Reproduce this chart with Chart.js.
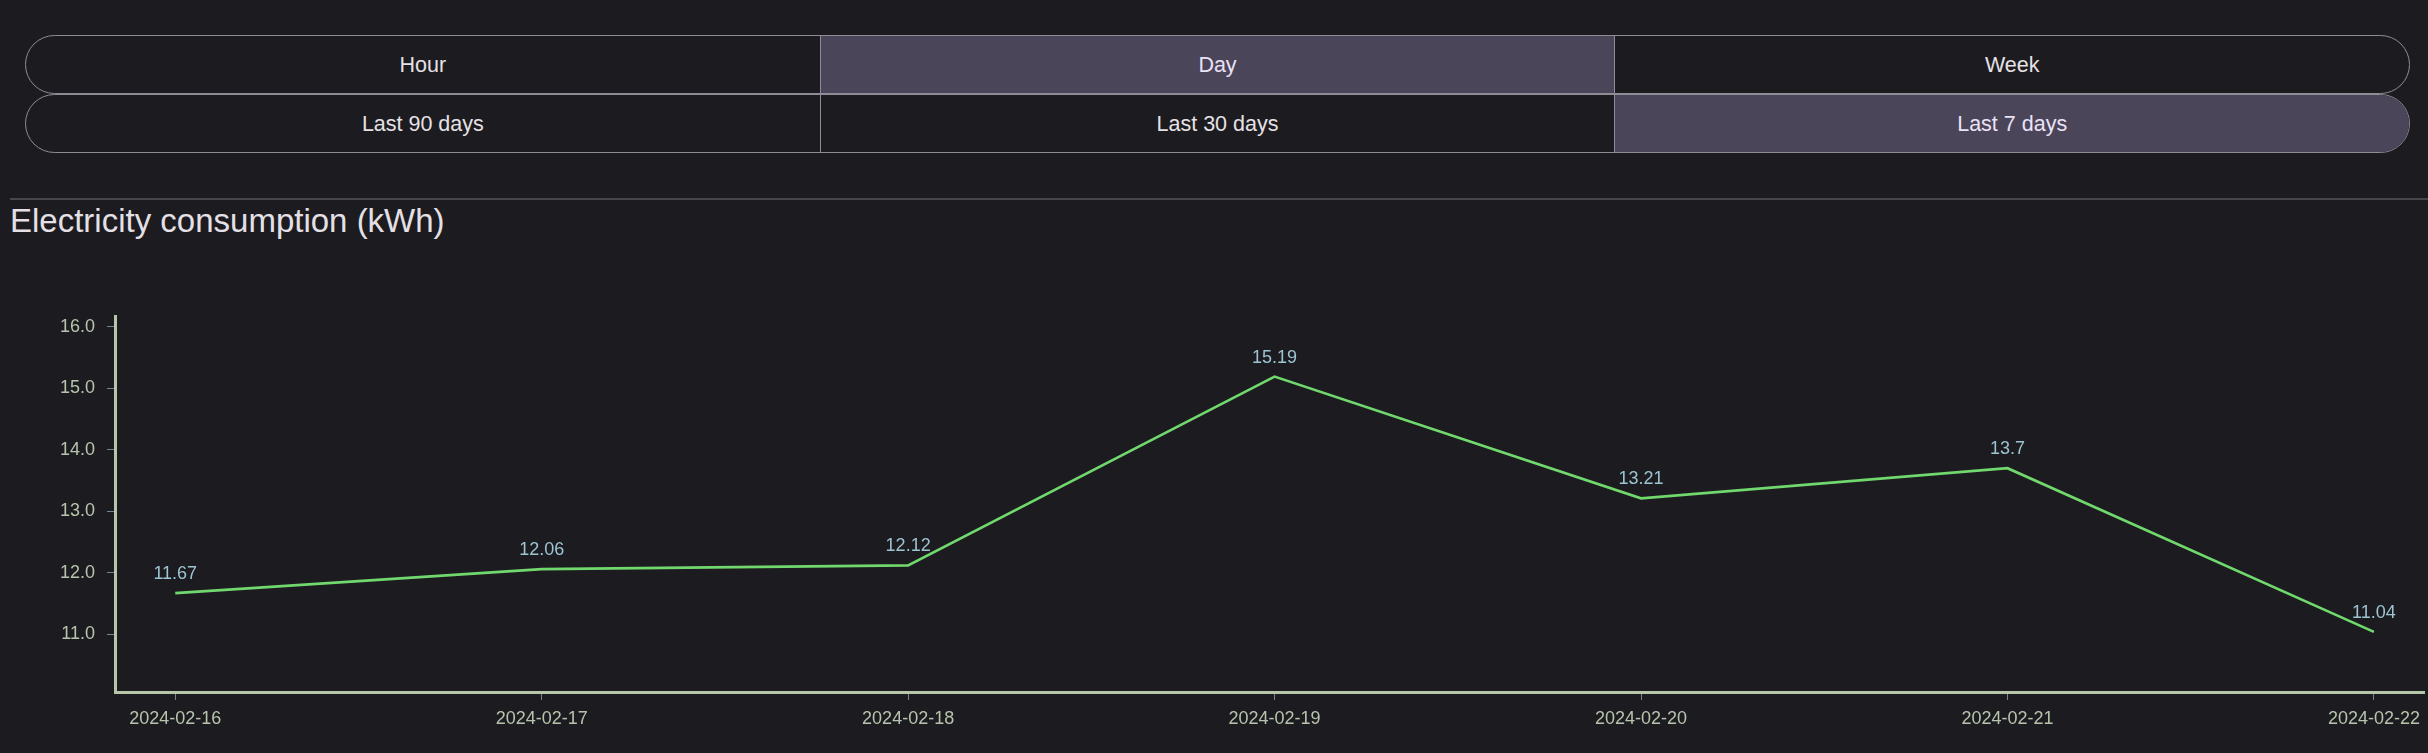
<!DOCTYPE html>
<html>
<head>
<meta charset="utf-8">
<script src="https://cdn.jsdelivr.net/npm/chart.js@4"></script>
<style>
  html, body { margin: 0; padding: 0; background: #1c1b20; }
  body { width: 2428px; height: 753px; position: relative; overflow: hidden;
         font-family: "Liberation Sans", Arial, sans-serif; }
  .row { position: absolute; left: 25px; width: 2385px; height: 59px; box-sizing: border-box;
         border: 1px solid #8f8c95; border-radius: 30px; overflow: hidden; display: flex; }
  .row div { flex: 1; display: flex; align-items: center; justify-content: center;
             font-size: 21.5px; color: #e6e1e5; padding-top: 2px; box-sizing: border-box; }
  .row div + div { border-left: 1px solid #8f8c95; }
  .row div.sel { background: #4a4559; color: #ebe2f7; }
  #r1 { top: 35px; }
  #r2 { top: 94px; }
  #rule { position: absolute; left: 10px; right: 0; top: 198px; height: 2px; background: #47464c; }
  #title { position: absolute; left: 10px; top: 202px; font-size: 33px; line-height: 38px; color: #e4e0e6; margin: 0; font-weight: normal; }
  #chart { position: absolute; left: 0; top: 240px; }
</style>
</head>
<body>
<div class="row" id="r1"><div>Hour</div><div class="sel">Day</div><div>Week</div></div>
<div class="row" id="r2"><div>Last 90 days</div><div>Last 30 days</div><div class="sel">Last 7 days</div></div>
<div id="rule"></div>
<h1 id="title">Electricity consumption (kWh)</h1>
<canvas id="chart" width="2428" height="513"></canvas>
<script>
const categories = ['2024-02-16', '2024-02-17', '2024-02-18', '2024-02-19', '2024-02-20', '2024-02-21', '2024-02-22'];
const consumption = [11.67, 12.06, 12.12, 15.19, 13.21, 13.7, 11.04];
const yTickValues = [11, 12, 13, 14, 15, 16];

const FONT = '"Liberation Sans", Arial, sans-serif';
Chart.defaults.font.family = FONT;
Chart.defaults.font.size = 18;

const valueLabels = {
  id: 'valueLabels',
  afterDatasetsDraw(chart) {
    const ctx = chart.ctx;
    const meta = chart.getDatasetMeta(0);
    ctx.save();
    ctx.font = '18px ' + FONT;
    ctx.fillStyle = '#9cc4d1';
    ctx.textAlign = 'center';
    ctx.textBaseline = 'alphabetic';
    meta.data.forEach((pt, i) => {
      ctx.fillText(String(consumption[i]), pt.x, pt.y - 14);
    });
    ctx.restore();
  }
};

new Chart(document.getElementById('chart'), {
  type: 'line',
  data: {
    datasets: [{
      label: 'Electricity consumption (kWh)',
      data: categories.map((c, i) => ({ x: i, y: consumption[i] })),
      borderColor: '#70d86c',
      borderWidth: 2.6,
      pointRadius: 0,
      tension: 0,
      fill: false
    }]
  },
  options: {
    responsive: false,
    devicePixelRatio: 1,
    animation: false,
    layout: { padding: { top: 76, right: 2, left: 0, bottom: 0 } },
    plugins: { legend: { display: false }, tooltip: { enabled: false } },
    scales: {
      x: {
        type: 'linear',
        min: -0.1644,
        max: 6.138,
        afterBuildTicks: (axis) => { axis.ticks = categories.map((c, i) => ({ value: i })); },
        afterFit: (scale) => { scale.height = 61; },
        ticks: {
          color: '#b7c4ad',
          padding: 8,
          maxRotation: 0,
          autoSkip: false,
          callback: (v) => categories[v]
        },
        grid: { display: true, drawOnChartArea: false, drawTicks: true, tickLength: 8, color: '#70849a' },
        border: { display: true, color: '#b6c6a9', width: 3 }
      },
      y: {
        min: 10.062,
        max: 16.174,
        afterBuildTicks: (axis) => { axis.ticks = yTickValues.map(v => ({ value: v })); },
        afterFit: (scale) => { scale.width = 115; },
        ticks: {
          color: '#b7c4ad',
          padding: 12,
          callback: (v) => Number(v).toFixed(1)
        },
        grid: { display: true, drawOnChartArea: false, drawTicks: true, tickLength: 8, color: '#70849a' },
        border: { display: true, color: '#b6c6a9', width: 3 }
      }
    }
  },
  plugins: [valueLabels]
});
</script>
</body>
</html>
